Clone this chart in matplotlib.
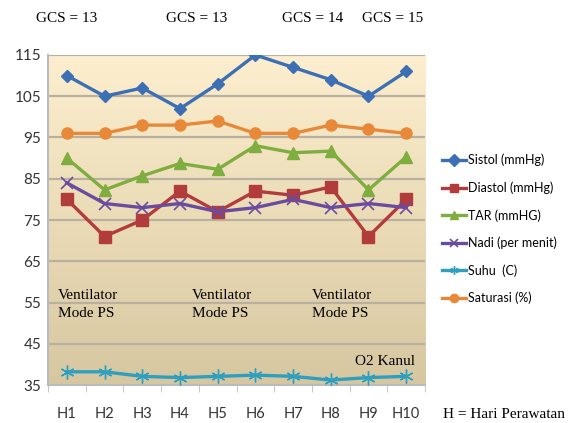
import numpy as np
import matplotlib.pyplot as plt
from matplotlib.colors import LinearSegmentedColormap

hari = ['H1', 'H2', 'H3', 'H4', 'H5', 'H6', 'H7', 'H8', 'H9', 'H10']
sistol = [110, 105, 107, 102, 108, 115, 112, 109, 105, 111]
diastol = [80, 71, 75, 82, 77, 82, 81, 83, 71, 80]
tar = [90, 82.3, 85.7, 88.7, 87.3, 93, 91.3, 91.7, 82.3, 90.3]
nadi = [84, 79, 78, 79, 77, 78, 80, 78, 79, 78]
suhu = [38.2, 38.2, 37.1, 36.8, 37.1, 37.4, 37.1, 36.2, 36.8, 37.1]
saturasi = [96, 96, 98, 98, 99, 96, 96, 98, 97, 96]
y_ticks = [35, 45, 55, 65, 75, 85, 95, 105, 115]

gcs_labels = ['GCS = 13', 'GCS = 13', 'GCS = 14', 'GCS = 15']
vent_label = 'Ventilator\nMode PS'

fig = plt.figure(figsize=(5.69, 4.23), dpi=100)
ax = fig.add_axes([0.0844, 0.0898, 0.6626, 0.7802])

x = np.arange(1, len(hari) + 1)

# background gradient
cmap = LinearSegmentedColormap.from_list('bg', ['#d6c7a1', '#ebdcb7', '#fdeecf'])
grad = np.linspace(0, 1, 256).reshape(-1, 1)
ax.imshow(grad, cmap=cmap, aspect='auto', origin='lower',
          extent=[0.5, 10.5, 35, 115], zorder=0)

for yt in y_ticks[1:]:
    ax.axhline(yt, color='#b8b0a0', lw=1.6, zorder=1)

lw = 2.4
ax.plot(x, sistol, color='#3c6fb3', marker='D', ms=6, lw=lw, label='Sistol (mmHg)', zorder=3)
ax.plot(x, diastol, color='#b23b3b', marker='s', ms=8, lw=lw, label='Diastol (mmHg)', zorder=3)
ax.plot(x, tar, color='#7fad3f', marker='^', ms=8, lw=lw, label='TAR (mmHG)', zorder=3)
ax.plot(x, nadi, color='#6b4ba0', marker='x', ms=8, mew=1.2, lw=lw, label='Nadi (per menit)', zorder=3)
ax.plot(x, suhu, color='#2f9fc0', marker=(6, 2, 0), ms=10, mew=1.0, lw=lw, label='Suhu  (C)', zorder=3)
ax.plot(x, saturasi, color='#e8893a', marker='o', ms=8, lw=lw, label='Saturasi (%)', zorder=3)

sans = ['Lato', 'DejaVu Sans']
ax.set_xlim(0.5, 10.5)
ax.set_ylim(35, 115)
ax.set_yticks(y_ticks)
ax.set_xticks(x)
ax.set_xticklabels(hari)
ax.set_xticks(np.arange(0.5, 11.5, 1), minor=True)
ax.tick_params(axis='x', which='major', length=0, pad=16, labelsize=10.5, colors='#333333')
ax.tick_params(axis='x', which='minor', length=5, color='#bbbbbb')
ax.tick_params(axis='y', length=0, pad=5, labelsize=11, colors='#333333')
for lab in ax.get_xticklabels() + ax.get_yticklabels():
    lab.set_family(sans)

for s in ['top', 'right']:
    ax.spines[s].set_visible(False)
ax.spines['left'].set_color('#bbbbbb')
ax.spines['bottom'].set_color('#bbbbbb')
ax.spines['left'].set_linewidth(1.5)
ax.spines['bottom'].set_linewidth(1.5)

serif = 'Liberation Serif'
gcs_x = [67, 197, 313, 393]
for gx, gl in zip(gcs_x, gcs_labels):
    fig.text(gx / 569, 1 - 19 / 423, gl, family=serif, fontsize=11, ha='center', va='center')

for vx in [58, 192, 312]:
    fig.text(vx / 569, 1 - 304 / 423, vent_label, family=serif, fontsize=11,
             ha='left', va='center', linespacing=1.5)

fig.text(415 / 569, 1 - 361 / 423, 'O2 Kanul', family=serif, fontsize=11, ha='right', va='center')
fig.text(504 / 569, 1 - 414 / 423, 'H = Hari Perawatan', family=serif, fontsize=11,
         ha='center', va='center')

leg = fig.legend(loc='center left', bbox_to_anchor=(442 / 569, 1 - 229 / 423), frameon=False,
                 handlelength=1.9, handletextpad=0.15, labelspacing=1.2, borderaxespad=0,
                 borderpad=0, prop={'family': sans, 'size': 9})
for h in leg.legend_handles:
    h.set_markersize(6)

fig.savefig('out.png', dpi=100)
